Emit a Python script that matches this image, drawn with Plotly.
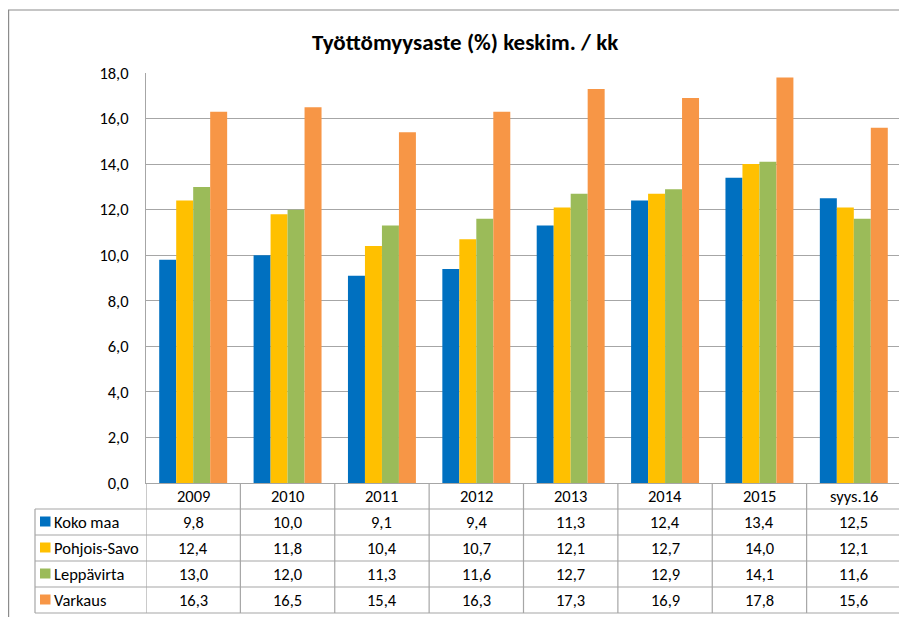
import plotly.graph_objects as go

categories = ["2009", "2010", "2011", "2012", "2013", "2014", "2015", "syys.16"]
koko_maa = [9.8, 10.0, 9.1, 9.4, 11.3, 12.4, 13.4, 12.5]
pohjois_savo = [12.4, 11.8, 10.4, 10.7, 12.1, 12.7, 14.0, 12.1]
leppavirta = [13.0, 12.0, 11.3, 11.6, 12.7, 12.9, 14.1, 11.6]
varkaus = [16.3, 16.5, 15.4, 16.3, 17.3, 16.9, 17.8, 15.6]
series_names = ["Koko maa", "Pohjois-Savo", "Leppävirta", "Varkaus"]
series_values = [koko_maa, pohjois_savo, leppavirta, varkaus]
colors = ["#0070C0", "#FFC000", "#9BBB59", "#F79646"]
title = "Työttömyysaste (%) keskim. / kk"

# page body has an 8px margin: figure origin sits at screen (8, 8)
OX, OY = 8, 8
W, H = 907 - OX, 617 - OY
# target screen pixels
SL, SR, ST, SB = 146, 901, 73, 483
L, R, T, B = SL - OX, SR - OX, ST - OY, SB - OY
FONT = "Carlito, Calibri, Lato, sans-serif"
GRID = "#A6A6A6"
FS = 16.5


def py(p):  # screen y -> paper
    return (SB - p) / (SB - ST)


def px(p):  # screen x -> paper
    return (p - SL) / (SR - SL)


idx = list(range(len(categories)))

fig = go.Figure()
for name, vals, col in zip(series_names, series_values, colors):
    fig.add_trace(go.Bar(x=idx, y=vals, name=name, marker=dict(color=col, line=dict(width=0))))

shapes = []
annotations = []

# outer chart border
shapes.append(dict(type="rect", xref="paper", yref="paper", x0=px(8.6), x1=px(940), y0=py(660), y1=py(10),
                   line=dict(color="#8C8C8C", width=1.2), fillcolor="rgba(0,0,0,0)", layer="below"))

row_h = 26
n_rows = len(series_names)
table_bottom = SB + row_h * (n_rows + 1)
label_left = 35

for i in range(1, n_rows + 2):
    y = SB + row_h * i
    shapes.append(dict(type="line", xref="paper", yref="paper", x0=px(label_left), x1=1, y0=py(y), y1=py(y),
                       line=dict(color=GRID, width=1.2)))
shapes.append(dict(type="line", xref="paper", yref="paper", x0=px(label_left), x1=px(label_left),
                   y0=py(SB + row_h), y1=py(table_bottom), line=dict(color=GRID, width=1.2)))
for i in range(len(categories) + 1):
    x = i - 0.5
    shapes.append(dict(type="line", xref="x", yref="paper", x0=x, x1=x, y0=py(SB), y1=py(table_bottom),
                       line=dict(color=GRID, width=1.2)))

for i, c in enumerate(categories):
    annotations.append(dict(x=i, y=py(SB + row_h / 2), xref="x", yref="paper", text=c, showarrow=False,
                            font=dict(family=FONT, size=FS, color="black"), xanchor="center", yanchor="middle"))

for r, (name, vals, col) in enumerate(zip(series_names, series_values, colors)):
    yc = SB + row_h * (r + 1) + row_h / 2
    shapes.append(dict(type="rect", xref="paper", yref="paper", x0=px(40), x1=px(50.5), y0=py(yc - 5.5), y1=py(yc + 4.5),
                       fillcolor=col, line=dict(width=0)))
    annotations.append(dict(x=px(52), y=py(yc), xref="paper", yref="paper", text=name, showarrow=False,
                            font=dict(family=FONT, size=FS, color="black"), xanchor="left", yanchor="middle"))
    for i, v in enumerate(vals):
        annotations.append(dict(x=i, y=py(yc), xref="x", yref="paper", text=f"{v:.1f}".replace(".", ","),
                                showarrow=False, font=dict(family=FONT, size=FS, color="black"),
                                xanchor="center", yanchor="middle"))

annotations.append(dict(x=px(465), y=py(42), xref="paper", yref="paper", text=f"<b>{title}</b>", showarrow=False,
                        font=dict(family=FONT, size=23, color="black"), xanchor="center", yanchor="middle"))

fig.update_layout(
    width=W, height=H,
    margin=dict(l=L, r=W - R, t=T, b=H - B, pad=0),
    paper_bgcolor="white", plot_bgcolor="white",
    separators=", ",
    barmode="group", bargap=0.28, bargroupgap=0,
    showlegend=False,
    font=dict(family=FONT, size=FS, color="black"),
    xaxis=dict(showticklabels=False, showgrid=False, showline=True, linecolor=GRID, linewidth=1.2,
               ticks="", range=[-0.5, len(categories) - 0.5], zeroline=False, fixedrange=True),
    yaxis=dict(range=[0, 18], dtick=2, tickformat=".1f", showgrid=True, gridcolor=GRID, gridwidth=1.2,
               showline=True, linecolor=GRID, linewidth=1.2, ticks="", ticklabelstandoff=13,
               tickfont=dict(family=FONT, size=FS, color="black"), zeroline=False, fixedrange=True),
    shapes=shapes,
    annotations=annotations,
)

fig.write_html("out.html")
